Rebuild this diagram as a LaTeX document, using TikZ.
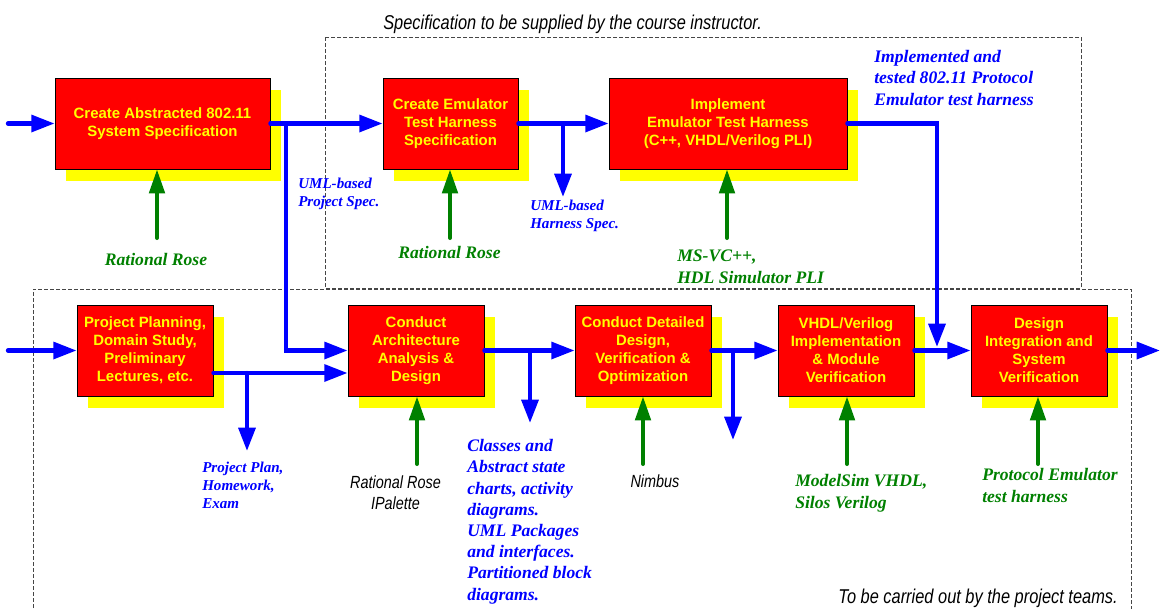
\documentclass[tikz,border=0pt]{standalone}
\usepackage{fontspec}
\setmainfont{Liberation Serif}
\setsansfont{Liberation Sans}
\newfontfamily\narrowsans[FakeStretch=0.82]{Liberation Sans}
\usetikzlibrary{arrows.meta,shadows}

\definecolor{boxred}{RGB}{255,0,0}
\definecolor{boxyellow}{RGB}{255,255,0}
\definecolor{flowblue}{RGB}{0,0,255}
\definecolor{toolgreen}{RGB}{0,128,0}
\definecolor{framegray}{RGB}{70,70,70}

\tikzset{
	taskbox/.style={draw=black, line width=0.6pt, fill=boxred, inner sep=0pt,
		minimum width=102pt, minimum height=68.25pt, align=center, text=boxyellow,
		font=\sffamily\bfseries\fontsize{11.2}{13.5}\selectfont,
		drop shadow={fill=boxyellow, opacity=1, shadow xshift=8.6pt, shadow yshift=-9pt}},
	flowarrow/.style={flowblue, line width=3.2pt, line cap=round, -{Triangle[length=17.5pt, width=12.5pt]}},
	toolarrow/.style={toolgreen, line width=3pt, line cap=round, -{Triangle[length=18pt, width=11.5pt]}},
	biglabel/.style={inner sep=0pt, align=left, font=\rmfamily\bfseries\itshape\fontsize{13.2}{15.9}\selectfont},
	smalllabel/.style={inner sep=0pt, align=left, text=flowblue, font=\rmfamily\bfseries\itshape\fontsize{11.3}{13.5}\selectfont},
	notelabel/.style={inner sep=0pt, align=center, font=\narrowsans\itshape\fontsize{13.2}{15.75}\selectfont},
	region/.style={framegray, line width=0.6pt, dash pattern=on 3pt off 1.5pt}
}

\begin{document}
\begin{tikzpicture}[x=0.75pt, y=-0.75pt]
	\useasboundingbox (0,0) rectangle (1161,608);
	% the two regions
	\draw[region] (325,37) rectangle (1081,288);
	\draw[region] (33,620) -- (33,289) -- (1131,289) -- (1131,620);
	\node[notelabel, font=\narrowsans\itshape\fontsize{15}{18}\selectfont, anchor=base west] (top) at (383,29) {Specification to be supplied by the course instructor.};
	\node[notelabel, font=\narrowsans\itshape\fontsize{15}{18}\selectfont, anchor=base east] (bottom) at (1118,603) {To be carried out by the project teams.};

	% tasks
	\node[taskbox, minimum width=161.25pt] (box1) at (162.5,123.5) {Create Abstracted 802.11\\System Specification};
	\node[taskbox, minimum width=101.25pt] (box2) at (450.5,123.5) {Create Emulator\\Test Harness\\Specification};
	\node[taskbox, minimum width=178.5pt] (box3) at (728,123.5) {Implement\\Emulator Test Harness\\(C++, VHDL/Verilog PLI)};
	\node[taskbox] (box4) at (145,350.5) {Project Planning,\\Domain Study,\\Preliminary\\Lectures, etc.};
	\node[taskbox] (box5) at (416,350.5) {Conduct\\Architecture\\Analysis \&\\Design};
	\node[taskbox] (box6) at (643,350.5) {Conduct Detailed\\Design,\\Verification \&\\Optimization};
	\node[taskbox] (box7) at (846,350.5) {VHDL/Verilog\\Implementation\\\& Module\\Verification};
	\node[taskbox] (box8) at (1039,350.5) {Design\\Integration and\\System\\Verification};

	% flow
	\coordinate (in1) at (8,123.5);
	\coordinate (in2) at (8,350.5);
	\coordinate (j1) at (286,123.5);
	\coordinate (j2) at (563,123.5);
	\coordinate (d2) at (563,197);
	\coordinate (d3) at (937,347);
	\coordinate (j4) at (247,373);
	\coordinate (d4) at (247,451);
	\coordinate (j5) at (530,350.5);
	\coordinate (d5) at (530,423);
	\coordinate (j6) at (733,350.5);
	\coordinate (d6) at (733,440);
	\coordinate (fin) at (1160,350.5);
	\draw[flowarrow] (in1) -- (box1.west);
	\draw[flowarrow] (box1.east) -- (box2.west);
	\draw[flowarrow] (j1) |- (box5.west);
	\draw[flowarrow] (box2.east) -- (box3.west);
	\draw[flowarrow] (j2) -- (d2);
	\draw[flowarrow] (box3.east) -| (d3);
	\draw[flowarrow] (in2) -- (box4.west);
	\draw[flowarrow] (box4.east |- j4) -- (box5.west |- j4);
	\draw[flowarrow] (j4) -- (d4);
	\draw[flowarrow] (box5.east) -- (box6.west);
	\draw[flowarrow] (j5) -- (d5);
	\draw[flowarrow] (box6.east) -- (box7.west);
	\draw[flowarrow] (j6) -- (d6);
	\draw[flowarrow] (box7.east) -- (box8.west);
	\draw[flowarrow] (box8.east) -- (fin);

	% tools
	\foreach \b/\x/\y in {1/157/238, 2/450/238, 3/727/238, 5/417/464, 6/643/464, 7/847/464, 8/1038/464} {
		\coordinate (t\b) at (\x,\y);
		\draw[toolarrow] (t\b) -- (t\b |- box\b.south);
	}

	% labels (multi-line ones sit on the baseline of their last line)
	\node[biglabel, text=toolgreen, anchor=base] (lab1) at (156,265) {Rational Rose};
	\node[biglabel, text=toolgreen, anchor=base] (lab2) at (449.5,258) {Rational Rose};
	\node[biglabel, text=toolgreen, anchor=base west] (lab3) at (677,283) {MS-VC++,\\HDL Simulator PLI};
	\node[smalllabel, anchor=base west] (lab4) at (298,206) {UML-based\\Project Spec.};
	\node[smalllabel, anchor=base west] (lab5) at (530,228) {UML-based\\Harness Spec.};
	\node[biglabel, text=flowblue, anchor=base west] (lab6) at (874,105) {Implemented and\\tested 802.11 Protocol\\Emulator test harness};
	\node[smalllabel, anchor=base west] (lab7) at (202,508) {Project Plan,\\Homework,\\Exam};
	\node[notelabel, anchor=base] (lab8) at (395.5,509) {Rational Rose\\IPalette};
	\node[biglabel, text=flowblue, anchor=base west] (lab9) at (467,600) {Classes and\\Abstract state\\charts, activity\\diagrams.\\UML Packages\\and interfaces.\\Partitioned block\\diagrams.};
	\node[notelabel, anchor=base] (lab10) at (655,487) {Nimbus};
	\node[biglabel, text=toolgreen, anchor=base west] (lab11) at (795,508) {ModelSim VHDL,\\Silos Verilog};
	\node[biglabel, text=toolgreen, anchor=base west] (lab12) at (982,502) {Protocol Emulator\\test harness};
\end{tikzpicture}
\end{document}
